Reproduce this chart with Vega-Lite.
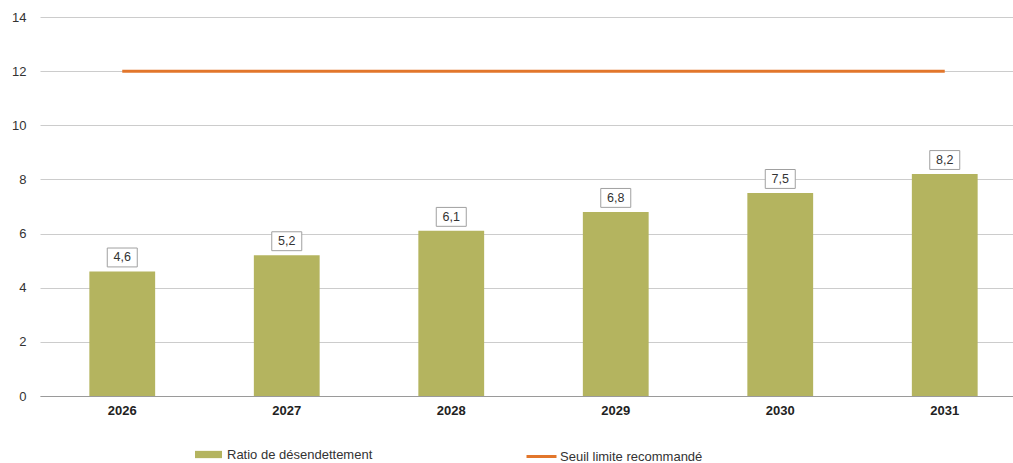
{
  "$schema": "https://vega.github.io/schema/vega-lite/v6.json",
  "width": 973,
  "height": 379,
  "autosize": {"type": "none"},
  "padding": {"left": 40, "top": 17, "right": 0, "bottom": 67},
  "background": "white",
  "config": {
    "font": "Liberation Sans",
    "view": {"stroke": null},
    "legend": {"padding": 0},
    "locale": {"number": {"decimal": ",", "thousands": " ", "grouping": [3], "currency": ["", " €"]}}
  },
  "datasets": {
    "bars": [
      {"annee": "2026", "ratio": 4.6, "serie": "Ratio de désendettement"},
      {"annee": "2027", "ratio": 5.2, "serie": "Ratio de désendettement"},
      {"annee": "2028", "ratio": 6.1, "serie": "Ratio de désendettement"},
      {"annee": "2029", "ratio": 6.8, "serie": "Ratio de désendettement"},
      {"annee": "2030", "ratio": 7.5, "serie": "Ratio de désendettement"},
      {"annee": "2031", "ratio": 8.2, "serie": "Ratio de désendettement"}
    ],
    "seuil": [
      {"annee": "2026", "seuil": 12, "serie": "Seuil limite recommandé"},
      {"annee": "2031", "seuil": 12, "serie": "Seuil limite recommandé"}
    ]
  },
  "encoding": {
    "x": {
      "field": "annee", "type": "nominal",
      "scale": {"domain": ["2026", "2027", "2028", "2029", "2030", "2031"], "range": [0, 987], "paddingInner": 0.6, "paddingOuter": 0.3},
      "axis": {"title": null, "labelAngle": 0, "labelFont": "Liberation Sans", "labelFontSize": 13, "labelFontWeight": "bold", "labelColor": "#222", "ticks": false, "domain": true, "domainColor": "#9a9a9a", "labelPadding": 8}
    }
  },
  "layer": [
    {
      "data": {"name": "bars"},
      "mark": {"type": "bar"},
      "encoding": {
        "y": {
          "field": "ratio", "type": "quantitative",
          "scale": {"domain": [0, 14], "nice": false},
          "axis": {"title": null, "values": [0, 2, 4, 6, 8, 10, 12, 14], "format": "d", "grid": true, "gridColor": "#cccccc", "domain": false, "ticks": false, "labelFontSize": 13, "labelColor": "#333", "labelPadding": 14}
        },
        "fill": {
          "field": "serie", "type": "nominal",
          "scale": {"range": ["#b4b45f"]},
          "legend": {"title": null, "orient": "none", "legendX": 155, "legendY": 424, "symbolType": "M-1,-0.27H1V0.27H-1Z", "symbolSize": 729, "symbolStrokeWidth": 0, "labelFontSize": 13, "labelColor": "#333", "labelOffset": 5}
        }
      }
    },
    {
      "data": {"name": "bars"},
      "mark": {"type": "point", "shape": "M-1,-0.63H1V0.63H-1Z", "size": 900, "filled": true, "fill": "white", "stroke": "#a0a0a0", "strokeWidth": 1, "yOffset": -14, "opacity": 1},
      "encoding": {"y": {"field": "ratio", "type": "quantitative"}}
    },
    {
      "data": {"name": "bars"},
      "mark": {"type": "text", "fontSize": 12.5, "color": "#333", "yOffset": -14, "baseline": "middle"},
      "encoding": {
        "y": {"field": "ratio", "type": "quantitative"},
        "text": {"field": "ratio", "type": "quantitative", "format": ".1f"}
      }
    },
    {
      "data": {"name": "seuil"},
      "mark": {"type": "line", "strokeWidth": 3},
      "encoding": {
        "y": {"field": "seuil", "type": "quantitative"},
        "stroke": {
          "field": "serie", "type": "nominal",
          "scale": {"range": ["#e2762b"]},
          "legend": {"title": null, "orient": "none", "legendX": 485, "legendY": 423, "symbolType": "stroke", "symbolSize": 900, "symbolStrokeWidth": 3, "symbolStrokeColor": "#e2762b", "labelFontSize": 13, "labelColor": "#333", "labelOffset": 2}
        }
      }
    }
  ]
}
